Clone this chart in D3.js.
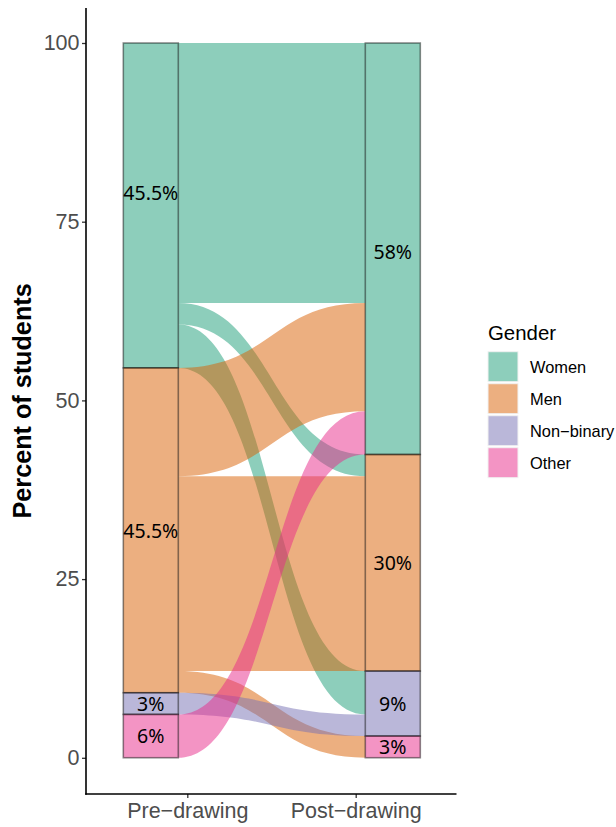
<!DOCTYPE html>
<html>
<head>
<meta charset="utf-8">
<script src="https://cdn.jsdelivr.net/npm/d3@7"></script>
<style>
  html, body { margin: 0; padding: 0; background: #ffffff; }
  svg { display: block; }
</style>
</head>
<body>
<script>
// ---------------- data ----------------
const axes = ["Pre\u2212drawing", "Post\u2212drawing"];
const genders = ["Women", "Men", "Non\u2212binary", "Other"];
const flowSource = ["Women", "Women", "Women", "Men", "Men", "Men", "Non\u2212binary", "Other"];
const flowTarget = ["Women", "Men", "Non\u2212binary", "Women", "Men", "Other", "Non\u2212binary", "Women"];
const flowValue = [36.36, 3.03, 6.06, 15.15, 27.27, 3.03, 3.03, 6.06];
const preLabels = ["45.5%", "45.5%", "3%", "6%"];
const postLabels = ["58%", "30%", "9%", "3%"];
const preLabelY = [79.0, 31.7, 7.5, 3.0];
const postLabelY = [70.7, 27.2, 7.5, 1.5];
const yTicks = [0, 25, 50, 75, 100];

// ---------------- layout ----------------
const width = 616, height = 827;
const panel = { left: 86, top: 8, right: 456.5, bottom: 794 };
const stratumWidth = 55;

const y = d3.scaleLinear().domain([0, 100]).range([757.8, 43]);
const xTick = d3.scalePoint().domain(axes).range([187.3, 355.7]);
const xStratum = d3.scalePoint().domain(axes).range([150.8, 392.8]);
const color = d3.scaleOrdinal().domain(genders).range(d3.schemeDark2.slice(0, 4));

const svg = d3.select("body").append("svg")
  .attr("width", width).attr("height", height);

// flows table
const flows = flowValue.map((v, i) => ({
  source: flowSource[i], target: flowTarget[i], value: v,
  si: genders.indexOf(flowSource[i]), ti: genders.indexOf(flowTarget[i])
}));

// strata stacks (top = Women)
function stack(key) {
  let cum = 100;
  return genders.map(g => {
    const total = d3.sum(flows.filter(f => f[key] === g), f => f.value);
    const top = cum, bottom = cum - total;
    cum = bottom;
    return { gender: g, top, bottom, total };
  });
}
const preStrata = stack("source");
const postStrata = stack("target");

// flow positions on the left (ordered by target) and right (ordered by source)
genders.forEach((g, gi) => {
  let c = preStrata[gi].top;
  flows.filter(f => f.source === g).sort((a, b) => a.ti - b.ti).forEach(f => {
    f.y0t = c; f.y0b = c - f.value; c -= f.value;
  });
  let d = postStrata[gi].top;
  flows.filter(f => f.target === g).sort((a, b) => a.si - b.si).forEach(f => {
    f.y1t = d; f.y1b = d - f.value; d -= f.value;
  });
});

const x0 = xStratum(axes[0]) + stratumWidth / 2;
const x1 = xStratum(axes[1]) - stratumWidth / 2;
const xm = (x0 + x1) / 2;

function flowPath(f) {
  const a = y(f.y0t), b = y(f.y1t), c = y(f.y1b), d = y(f.y0b);
  return `M${x0},${a}C${xm},${a} ${xm},${b} ${x1},${b}` +
         `L${x1},${c}C${xm},${c} ${xm},${d} ${x0},${d}Z`;
}

// draw flows, ordered by source then target
svg.append("g").selectAll("path")
  .data(flows.slice().sort((a, b) => a.si - b.si || a.ti - b.ti))
  .join("path")
  .attr("d", flowPath)
  .attr("fill", f => color(f.source))
  .attr("fill-opacity", 0.5)
  .attr("stroke", "none");

// strata
function drawStrata(strata, axisName, labels, labelY) {
  const g = svg.append("g");
  const xl = xStratum(axisName) - stratumWidth / 2;
  g.selectAll("rect").data(strata).join("rect")
    .attr("x", xl)
    .attr("y", d => y(d.top))
    .attr("width", stratumWidth)
    .attr("height", d => y(d.bottom) - y(d.top))
    .attr("fill", d => color(d.gender))
    .attr("fill-opacity", 0.5)
    .attr("stroke", "#000")
    .attr("stroke-opacity", 0.45)
    .attr("stroke-width", 1.6);
  g.selectAll("text").data(strata).join("text")
    .attr("x", xStratum(axisName))
    .attr("y", (d, i) => y(labelY[i]))
    .attr("dy", "0.36em")
    .attr("text-anchor", "middle")
    .attr("font-family", "'Noto Sans', 'Open Sans', sans-serif")
    .attr("font-size", 19.5)
    .attr("fill", "#000")
    .text((d, i) => labels[i]);
}
drawStrata(preStrata, axes[0], preLabels, preLabelY);
drawStrata(postStrata, axes[1], postLabels, postLabelY);

// ---------------- axes ----------------
const font = "'Liberation Sans', Arial, Helvetica, sans-serif";

const yAxis = svg.append("g")
  .attr("transform", `translate(${panel.left},0)`)
  .call(d3.axisLeft(y).tickValues(yTicks).tickSize(4).tickPadding(2.5));
yAxis.select(".domain").remove();
yAxis.selectAll(".tick line").attr("stroke", "#333").attr("stroke-width", 1.3);
yAxis.selectAll(".tick text")
  .attr("font-family", font).attr("font-size", 21.5).attr("fill", "#4D4D4D");

const xAxis = svg.append("g")
  .attr("transform", `translate(0,${panel.bottom})`)
  .call(d3.axisBottom(xTick).tickSize(4).tickPadding(5));
xAxis.select(".domain").remove();
xAxis.selectAll(".tick line").attr("stroke", "#333").attr("stroke-width", 1.3);
xAxis.selectAll(".tick text")
  .attr("font-family", font).attr("font-size", 21.5).attr("fill", "#4D4D4D");

// axis lines
svg.append("line")
  .attr("x1", panel.left).attr("x2", panel.left)
  .attr("y1", panel.top).attr("y2", panel.bottom + 0.8)
  .attr("stroke", "#000").attr("stroke-width", 1.6);
svg.append("line")
  .attr("x1", panel.left - 0.8).attr("x2", panel.right)
  .attr("y1", panel.bottom).attr("y2", panel.bottom)
  .attr("stroke", "#000").attr("stroke-width", 1.6);

// y title
svg.append("text")
  .attr("transform", `translate(30.5,${(y(0) + y(100)) / 2 + 0.5}) rotate(-90)`)
  .attr("text-anchor", "middle")
  .attr("font-family", font)
  .attr("font-weight", "bold")
  .attr("font-size", 25.2)
  .attr("fill", "#000")
  .text("Percent of students");

// ---------------- legend ----------------
const legend = svg.append("g");
legend.append("text")
  .attr("x", 488).attr("y", 340)
  .attr("font-family", font).attr("font-size", 20.4).attr("fill", "#000")
  .text("Gender");
const keyTop = 351.7, keySize = 30, keyPitch = 32;
const items = legend.selectAll("g.item").data(genders).join("g")
  .attr("class", "item")
  .attr("transform", (d, i) => `translate(488,${keyTop + i * keyPitch})`);
items.append("rect")
  .attr("width", keySize).attr("height", keySize)
  .attr("fill", d => color(d)).attr("fill-opacity", 0.5)
  .attr("stroke", "#f2f2f2").attr("stroke-width", 1);
items.append("text")
  .attr("x", 42).attr("y", keySize / 2).attr("dy", "0.36em")
  .attr("font-family", font).attr("font-size", 16.4).attr("fill", "#000")
  .text(d => d);
</script>
</body>
</html>
